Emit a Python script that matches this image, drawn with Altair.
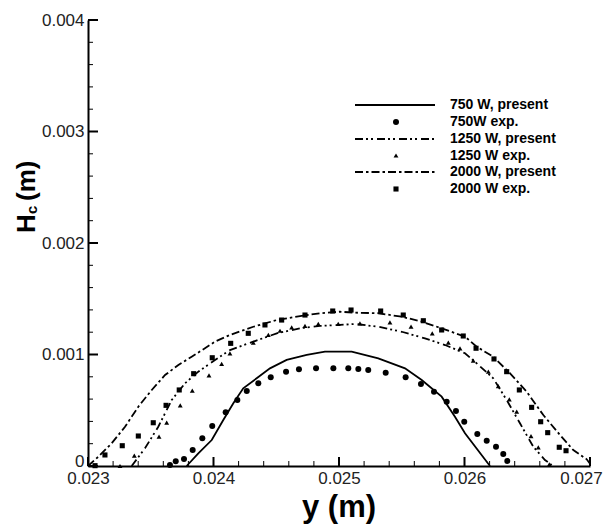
import altair as alt
import pandas as pd

# ---------------- data ----------------
x_750_present = [0.023786, 0.023879, 0.023986, 0.024078, 0.024158, 0.024237, 0.024344, 0.024450,
                 0.024583, 0.024743, 0.024888, 0.025101, 0.025313, 0.025526, 0.025659, 0.025818,
                 0.025924, 0.026004, 0.026203]
y_750_present = [0.0, 0.000114, 0.000233, 0.000413, 0.000562, 0.000697, 0.000787, 0.000876,
                 0.000951, 0.000996, 0.001025, 0.001025, 0.000966, 0.000876, 0.000771, 0.000622,
                 0.000442, 0.000293, 0.0]

x_750_exp = [0.023653, 0.023699, 0.023765, 0.023834, 0.023911, 0.023990, 0.024097, 0.024190,
             0.024265, 0.024357, 0.024456, 0.024578, 0.024681, 0.024817, 0.024955, 0.025074,
             0.025154, 0.025233, 0.025372, 0.025531, 0.025653, 0.025757, 0.025858, 0.025932,
             0.025998, 0.026102, 0.026177, 0.026251, 0.026309, 0.026341]
y_750_exp = [0.000009, 0.000042, 0.000063, 0.000143, 0.000248, 0.000359, 0.000482, 0.000592,
             0.000673, 0.000742, 0.000796, 0.000846, 0.000867, 0.000876, 0.000876, 0.000876,
             0.000870, 0.000861, 0.000837, 0.000796, 0.000735, 0.000666, 0.000577, 0.000493,
             0.000397, 0.000287, 0.000227, 0.000173, 0.000108, 0.000045]

x_1250_present = [0.023348, 0.023454, 0.023560, 0.023667, 0.023773, 0.023879, 0.024012, 0.024131,
                  0.024317, 0.024504, 0.024689, 0.024849, 0.025008, 0.025127, 0.025313, 0.025500,
                  0.025685, 0.025845, 0.026004, 0.026097, 0.026229, 0.026336, 0.026442, 0.026548,
                  0.026641, 0.026695]
y_1250_present = [0.0, 0.000159, 0.000352, 0.000592, 0.000742, 0.000846, 0.000951, 0.001040,
                  0.001115, 0.001190, 0.001235, 0.001256, 0.001265, 0.001274, 0.001249, 0.001204,
                  0.001145, 0.001085, 0.001011, 0.000921, 0.000787, 0.000592, 0.000383, 0.000173,
                  0.000054, 0.000009]

x_1250_exp = [0.023255, 0.023369, 0.023566, 0.023627, 0.023735, 0.023831, 0.023964, 0.024065,
              0.024131, 0.024317, 0.024437, 0.024530, 0.024623, 0.024729, 0.024835, 0.024994,
              0.025167, 0.025406, 0.025574, 0.025743, 0.025871, 0.025964, 0.026070, 0.026190,
              0.026269, 0.026357, 0.026416, 0.026530, 0.026588, 0.026676]
y_1250_exp = [0.0, 0.000092, 0.000263, 0.000388, 0.000544, 0.000675, 0.000813, 0.000915,
              0.001011, 0.001106, 0.001175, 0.001213, 0.001244, 0.001256, 0.001274, 0.001274,
              0.001280, 0.001289, 0.001249, 0.001190, 0.001106, 0.001056, 0.000944, 0.000846,
              0.000717, 0.000598, 0.000487, 0.000269, 0.000168, 0.000015]

x_2000_present = [0.023000, 0.023082, 0.023189, 0.023295, 0.023401, 0.023508, 0.023614, 0.023720,
                  0.023826, 0.023932, 0.024012, 0.024131, 0.024317, 0.024504, 0.024689, 0.024849,
                  0.025008, 0.025127, 0.025313, 0.025500, 0.025659, 0.025818, 0.026004, 0.026097,
                  0.026229, 0.026363, 0.026496, 0.026628, 0.026761, 0.026867, 0.026974, 0.027000]
y_2000_present = [0.0, 0.000083, 0.000204, 0.000352, 0.000532, 0.000682, 0.000816, 0.000906,
                  0.000980, 0.001056, 0.001115, 0.001175, 0.001249, 0.001309, 0.001345, 0.001370,
                  0.001384, 0.001375, 0.001370, 0.001339, 0.001294, 0.001235, 0.001160, 0.001070,
                  0.000980, 0.000831, 0.000666, 0.000457, 0.000278, 0.000143, 0.000060, 0.000020]

x_2000_exp = [0.023056, 0.023135, 0.023273, 0.023401, 0.023520, 0.023622, 0.023727, 0.023842,
              0.023990, 0.024137, 0.024277, 0.024410, 0.024543, 0.024729, 0.024950, 0.025096,
              0.025332, 0.025512, 0.025672, 0.025818, 0.025990, 0.026092, 0.026235, 0.026336,
              0.026437, 0.026535, 0.026607, 0.026663, 0.026755, 0.026809]
y_2000_exp = [0.000003, 0.000099, 0.000182, 0.000269, 0.000388, 0.000544, 0.000682, 0.000828,
              0.000971, 0.001100, 0.001190, 0.001265, 0.001309, 0.001354, 0.001390, 0.001399,
              0.001390, 0.001354, 0.001303, 0.001220, 0.001166, 0.001056, 0.000960, 0.000846,
              0.000682, 0.000526, 0.000397, 0.000299, 0.000168, 0.000137]

x_tick_values = [0.023, 0.024, 0.025, 0.026, 0.027]
y_tick_values = [0.0, 0.001, 0.002, 0.003, 0.004]
x_minor_values = [0.0232, 0.0234, 0.0236, 0.0238, 0.0242, 0.0244, 0.0246, 0.0248,
                  0.0252, 0.0254, 0.0256, 0.0258, 0.0262, 0.0264, 0.0266, 0.0268]
y_minor_values = [0.0002, 0.0004, 0.0006, 0.0008, 0.0012, 0.0014, 0.0016, 0.0018,
                  0.0022, 0.0024, 0.0026, 0.0028, 0.0032, 0.0034, 0.0036, 0.0038]

legend_labels = ["750 W, present", "750W exp.", "1250 W, present", "1250 W exp.",
                 "2000 W, present", "2000 W exp."]

# ---------------- styling ----------------
W, H = 502, 446
FONT = "Liberation Sans"
DASH_1250 = [8, 3, 2, 3, 2, 4]
DASH_2000 = [8, 3, 2.5, 3]
LW = 1.8

xs = alt.Scale(domain=[0.023, 0.027], nice=False, zero=False)
ys = alt.Scale(domain=[0.0, 0.004], nice=False, zero=False)

x_axis = alt.Axis(values=x_tick_values, format=".3f", labelFlush=False, ticks=False,
                  grid=False, title=None, domainColor="black", domainWidth=2,
                  labelFont=FONT, labelFontSize=17, labelColor="#222", labelPadding=4,
                  labelOffset={"condition": {"test": "datum.value > 0.0269", "value": -9},
                               "value": 0})
y_axis = alt.Axis(values=y_tick_values, labelExpr="datum.value == 0 ? '0' : format(datum.value, '.3f')",
                  ticks=False, grid=False, title=None, domainColor="black", domainWidth=2,
                  labelFont=FONT, labelFontSize=17, labelColor="#222", labelPadding=4,
                  labelBaseline={"condition": {"test": "datum.value == 0", "value": "alphabetic"},
                                 "value": "middle"})


def df(x, y):
    return pd.DataFrame({"x": x, "y": y})


def X(field="x"):
    return alt.X(f"{field}:Q", scale=xs, axis=x_axis)


def Y(field="y"):
    return alt.Y(f"{field}:Q", scale=ys, axis=y_axis)


def line_layer(x, y, dash=None):
    kw = dict(color="black", strokeWidth=LW)
    if dash:
        kw["strokeDash"] = dash
    return alt.Chart(df(x, y)).mark_line(**kw).encode(x=X(), y=Y())


def point_layer(x, y, shape, size):
    return alt.Chart(df(x, y)).mark_point(shape=shape, filled=True, color="black",
                                          size=size, opacity=1).encode(x=X(), y=Y())


layers = [
    line_layer(x_750_present, y_750_present),
    line_layer(x_1250_present, y_1250_present, DASH_1250),
    line_layer(x_2000_present, y_2000_present, DASH_2000),
    point_layer(x_750_exp, y_750_exp, "circle", 36),
    point_layer(x_1250_exp, y_1250_exp, "triangle-up", 24),
    point_layer(x_2000_exp, y_2000_exp, "square", 26),
]

# inward tick marks
layers.append(alt.Chart(pd.DataFrame({"v": x_tick_values})).mark_rule(color="black", strokeWidth=2).encode(
    x=X("v"), y=alt.value(H), y2=alt.value(H - 9)))
layers.append(alt.Chart(pd.DataFrame({"v": x_minor_values})).mark_rule(color="black", strokeWidth=1).encode(
    x=X("v"), y=alt.value(H), y2=alt.value(H - 5)))
layers.append(alt.Chart(pd.DataFrame({"v": y_tick_values})).mark_rule(color="black", strokeWidth=2).encode(
    y=Y("v"), x=alt.value(0), x2=alt.value(10)))
layers.append(alt.Chart(pd.DataFrame({"v": y_minor_values})).mark_rule(color="black", strokeWidth=1).encode(
    y=Y("v"), x=alt.value(0), x2=alt.value(5)))

# axis titles
one = pd.DataFrame({"a": [0]})
layers.append(alt.Chart(one).mark_text(font=FONT, fontSize=31, fontWeight="bold", align="center",
                                       baseline="alphabetic", color="black").encode(
    x=alt.value(W / 2), y=alt.value(H + 51), text=alt.value("y (m)")))
layers.append(alt.Chart(one).mark_text(font=FONT, fontSize=26, fontWeight="bold", align="left",
                                       baseline="alphabetic", angle=270, color="black").encode(
    x=alt.value(-53), y=alt.value(213), text=alt.value("H")))
layers.append(alt.Chart(one).mark_text(font=FONT, fontSize=15, fontWeight="bold", align="left",
                                       baseline="alphabetic", angle=270, color="black").encode(
    x=alt.value(-51), y=alt.value(194), text=alt.value("c")))
layers.append(alt.Chart(one).mark_text(font=FONT, fontSize=26, fontWeight="bold", align="left",
                                       baseline="alphabetic", angle=270, color="black").encode(
    x=alt.value(-53), y=alt.value(181), text=alt.value("(m)")))

# legend
row_y = [85, 102, 119, 135.5, 152, 169]
LX1, LX2, PX, TX = 267, 347, 308, 362
legend_items = [("line", None), ("point", "circle"), ("line", DASH_1250),
                ("point", "triangle-up"), ("line", DASH_2000), ("point", "square")]
sizes = {"circle": 36, "triangle-up": 24, "square": 26}
for (kind, style), label, ry in zip(legend_items, legend_labels, row_y):
    if kind == "line":
        kw = dict(color="black", strokeWidth=LW)
        if style:
            kw["strokeDash"] = style
        layers.append(alt.Chart(one).mark_rule(**kw).encode(
            x=alt.value(LX1), x2=alt.value(LX2), y=alt.value(ry)))
    else:
        layers.append(alt.Chart(one).mark_point(shape=style, filled=True, color="black",
                                                size=sizes[style], opacity=1).encode(
            x=alt.value(PX), y=alt.value(ry)))
    layers.append(alt.Chart(one).mark_text(font=FONT, fontSize=14, fontWeight="bold", align="left",
                                           baseline="middle", color="black").encode(
        x=alt.value(TX), y=alt.value(ry), text=alt.value(label)))

chart = alt.layer(*layers).properties(
    width=W, height=H,
    padding={"left": 80, "top": 12, "right": 13, "bottom": 58},
    autosize=alt.AutoSizeParams(type="none"),
    background="white",
).configure_view(stroke=None)

chart.save("out.html", embed_options={"renderer": "svg", "actions": False})
